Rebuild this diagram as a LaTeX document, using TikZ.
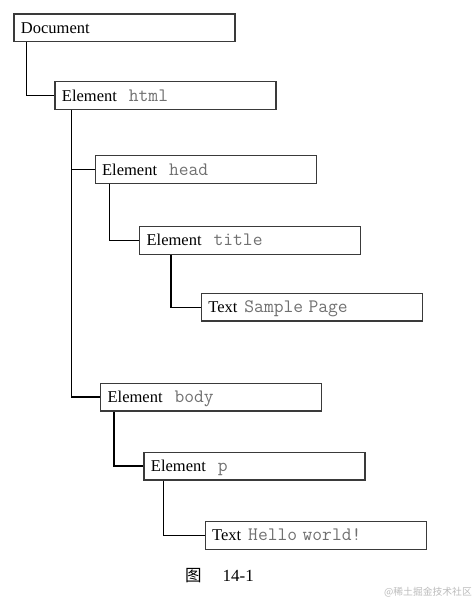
\documentclass[tikz,border=0pt]{standalone}
\usepackage{fontspec}
\setmainfont{Liberation Serif}
\newfontfamily\cjkfont{Noto Sans CJK SC}
\definecolor{monogray}{HTML}{707070}
\definecolor{boxline}{HTML}{3A3A3A}
\definecolor{wmgray}{HTML}{BBBBBB}
\newcommand\dcode[1]{{\color{monogray}\fontsize{19}{20}\ttfamily #1}}
\begin{document}
\begin{tikzpicture}[x=1pt,y=-1pt,
  box/.style={draw=boxline, line width=1.3pt, anchor=north west,
    minimum width=221pt, minimum height=27.5pt, inner xsep=7pt, inner ysep=2pt,
    text width=207pt, align=left, text height=12pt, text depth=1pt,
    font=\fontsize{16.5}{20}\selectfont},
  conn/.style={draw=black, line width=1.4pt}]
\useasboundingbox (0,0) rectangle (475,601);
\node[box] (doc)   at (13.3,13.3)  {Document};
\node[box] (html)  at (54.3,81.2)  {Element\hspace{12pt}\dcode{html}};
\node[box] (head)  at (94.5,155.2) {Element\hspace{12pt}\dcode{head}};
\node[box] (title) at (139,226)    {Element\hspace{12pt}\dcode{title}};
\node[box] (txt1)  at (200.7,292.8){Text\hspace{7pt}\dcode{Sample Page}};
\node[box] (body)  at (100,382.7)  {Element\hspace{12pt}\dcode{body}};
\node[box] (p)     at (143.3,451.7){Element\hspace{12pt}\dcode{p}};
\node[box] (txt2)  at (204.5,521)  {Text\hspace{7pt}\dcode{Hello world!}};
\draw[conn] ([xshift=13.4pt]doc.south west) |- (html.west);
\draw[conn] ([xshift=17.2pt]html.south west) |- (head.west);
\draw[conn] ([xshift=17.2pt]html.south west) |- (body.west);
\draw[conn] ([xshift=14.8pt]head.south west) |- (title.west);
\draw[conn] ([xshift=32pt]title.south west) |- (txt1.west);
\draw[conn] ([xshift=14pt]body.south west) |- (p.west);
\draw[conn] ([xshift=20.2pt]p.south west) |- (txt2.west);
\node[anchor=base west, inner sep=0pt, font=\cjkfont\fontsize{16.5}{20}\selectfont] (figchar) at (185,581.5) {图};
\node[anchor=base west, inner sep=0pt, font=\fontsize{17}{20}\selectfont] (fignum) at (222.5,581.5) {14-1};
\node[anchor=base east, inner sep=0pt, text=wmgray, font=\cjkfont\fontsize{9.8}{12}\selectfont] (wm) at (472,595) {@稀土掘金技术社区};
\end{tikzpicture}
\end{document}
